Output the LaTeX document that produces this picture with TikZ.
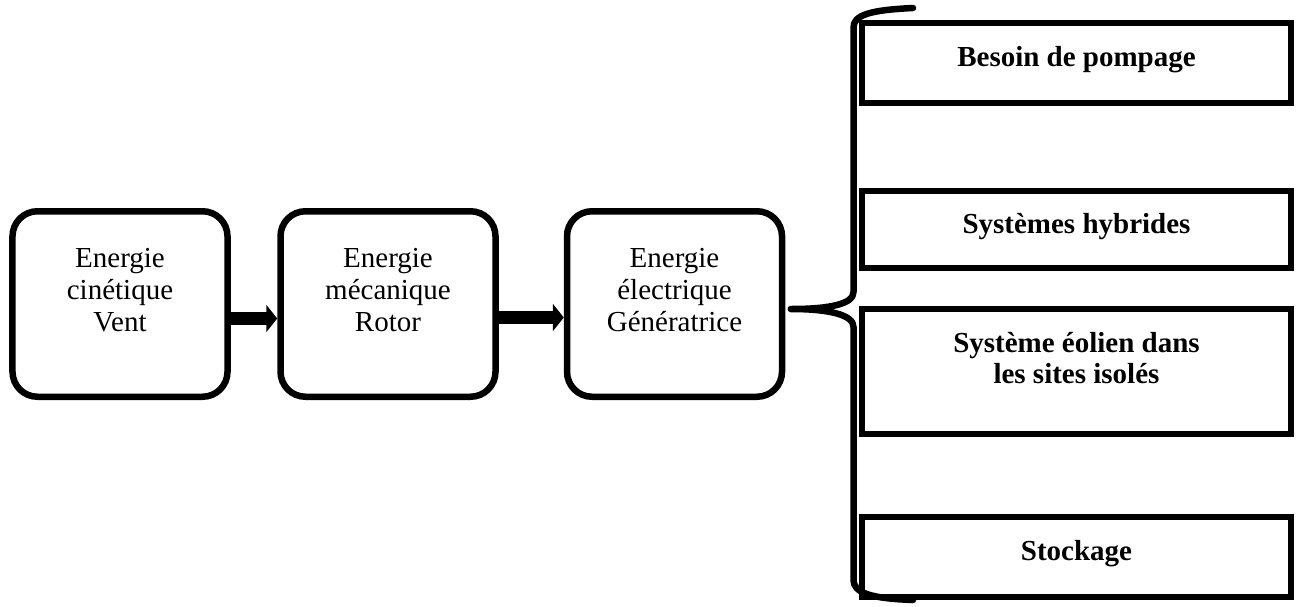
\documentclass[tikz,border=0pt]{standalone}
\usepackage{fontspec}
\setmainfont{Liberation Serif}
\usetikzlibrary{positioning}
\usepgflibrary{arrows.meta}

\tikzset{
	bloc/.style={draw, line width=0.13cm, rounded corners=0.5cm, minimum width=4.3cm, minimum height=3.71cm},
	choix/.style={draw, line width=0.12cm, minimum width=8.58cm},
	txt/.style={align=center, inner sep=0pt, font=\fontsize{16.5}{18}\selectfont},
	txtb/.style={txt, font=\fontsize{16.5}{18}\selectfont\bfseries},
	fleche/.style={line width=0.26cm, -{Triangle[length=0.22cm,width=0.54cm]}},
	accolade/.style={line width=0.13cm, line cap=round, line join=round}
}

\begin{document}
\begin{tikzpicture}[scale=1]

		\useasboundingbox (0,0) rectangle (25.92,-12.12);

		% chaine de conversion
		\node[bloc] (vent) at (2.4,-6.08) {};
		\node[bloc, right=0.93cm of vent] (rotor) {};
		\node[bloc, right=1.3cm of rotor] (gen) {};
		\node[txt] (vent-t) at ([yshift=0.28cm]vent.center) {Energie\\cinétique\\Vent};
		\node[txt] (rotor-t) at ([yshift=0.28cm]rotor.center) {Energie\\mécanique\\Rotor};
		\node[txt] (gen-t) at ([yshift=0.28cm]gen.center) {Energie\\électrique\\Génératrice};

		\draw[fleche] ([yshift=-0.29cm]vent.east) -- ([yshift=-0.29cm]rotor.west);
		\draw[fleche] ([yshift=-0.27cm]rotor.east) -- ([yshift=-0.27cm]gen.west);

		% applications
		\node[choix, minimum height=1.6cm] (pompage) at (21.53,-1.26) {};
		\node[choix, minimum height=1.54cm, below=1.64cm of pompage] (hybride) {};
		\node[choix, minimum height=2.5cm, below=0.7cm of hybride] (isole) {};
		\node[choix, minimum height=1.6cm, below=1.54cm of isole] (stock) {};
		\node[txtb] (pompage-t) at ([yshift=0.07cm]pompage.center) {Besoin de pompage};
		\node[txtb] (hybride-t) at ([yshift=0.06cm]hybride.center) {Systèmes hybrides};
		\node[txtb] (isole-t) at ([yshift=0.27cm]isole.center) {Système éolien dans\\les sites isolés};
		\node[txtb] (stock-t) at ([yshift=0.06cm]stock.center) {Stockage};

		\coordinate (tip) at ([xshift=0.11cm,yshift=-0.1cm]gen.east);
		\draw[accolade] (18.26,-0.16) .. controls (17.4,-0.2) and (17.07,-0.3) .. (17.07,-0.55)
			-- (17.07,-5.84) .. controls (17.07,-6.08) and (16.6,-6.18) .. (tip)
			.. controls (16.6,-6.18) and (17.07,-6.3) .. (17.07,-6.54)
			-- (17.07,-11.6) .. controls (17.07,-11.85) and (17.4,-11.97) .. (18.26,-12.0);

	\end{tikzpicture}
\end{document}
